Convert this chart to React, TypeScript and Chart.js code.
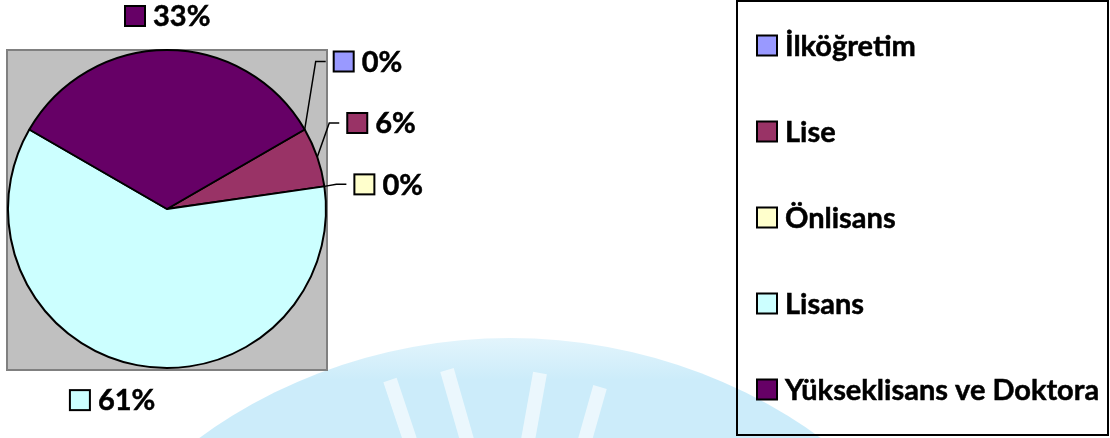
import React, { useEffect, useRef } from "react";
import { Chart, registerables } from "chart.js";

Chart.register(...registerables);

// ---- data ----
const categories = ["İlköğretim", "Lise", "Önlisans", "Lisans", "Yükseklisans ve Doktora"];
const counts = [0, 2, 0, 20, 11];
const sliceColors = ["#9999FF", "#993366", "#FFFFCC", "#CCFFFF", "#660066"];

// ---- layout (positions/styles, not data) ----
const FONT = "bold 29px Lato, 'Open Sans', sans-serif";
// label offset of the leader end (or swatch left) from slice's outer anchor
const labelLayout = [
  { dx: 21, dy: -68, leader: true },
  { dx: 22, dy: -34, leader: true },
  { dx: 22, dy: -2, leader: true },
  { dx: -67, dy: 35, leader: false },
  { dx: -42, dy: -34, leader: false },
];
const legendBox = { left: 737, top: 1, right: 1108, bottom: 435 };
const legendItems = { swatchX: 757, firstY: 45.5, step: 86 };

const labelPlugin = {
  id: "excelDecor",
  beforeDraw(chart: any) {
    const ctx = chart.ctx;
    const meta = chart.getDatasetMeta(0);
    const arc0 = meta.data[0];
    if (!arc0) return;
    const cx = arc0.x, cy = arc0.y, R = arc0.outerRadius;
    ctx.save();
    // faint watermark
    const g = ctx.createLinearGradient(0, 335, 0, 380);
    g.addColorStop(0, "rgb(228,245,252)");
    g.addColorStop(1, "rgb(204,236,250)");
    ctx.fillStyle = g;
    ctx.beginPath();
    ctx.ellipse(510, 800, 500, 462, 0, 0, Math.PI * 2);
    ctx.fill();
    ctx.strokeStyle = "rgba(255,255,255,0.6)";
    ctx.lineWidth = 14;
    ctx.lineCap = "butt";
    const strokes = [
      [390, 380, 410, 440],
      [447, 370, 467, 440],
      [540, 373, 528, 440],
      [600, 387, 585, 440],
    ];
    for (const s of strokes) {
      ctx.beginPath();
      ctx.moveTo(s[0], s[1]);
      ctx.lineTo(s[2], s[3]);
      ctx.stroke();
    }
    // plot area gray background
    ctx.fillStyle = "#C0C0C0";
    ctx.fillRect(cx - R - 1, cy - R, 2 * R + 2, 2 * R + 2);
    ctx.strokeStyle = "#808080";
    ctx.lineWidth = 2;
    ctx.strokeRect(cx - R - 1, cy - R, 2 * R + 2, 2 * R + 2);
    ctx.restore();
  },
  afterDraw(chart: any) {
    const ctx = chart.ctx;
    const meta = chart.getDatasetMeta(0);
    const total = counts.reduce((a, b) => a + b, 0);
    ctx.save();
    ctx.font = FONT;
    ctx.textBaseline = "middle";
    ctx.textAlign = "left";
    const drawSwatch = (x: number, yc: number, color: string) => {
      ctx.fillStyle = color;
      ctx.fillRect(x, yc - 10, 20, 20);
      ctx.strokeStyle = "#000";
      ctx.lineWidth = 2;
      ctx.strokeRect(x, yc - 10, 20, 20);
    };
    const drawText = (t: string, x: number, y: number) => {
      ctx.fillStyle = "#000";
      ctx.fillText(t, x, y);
      ctx.strokeStyle = "#000";
      ctx.lineWidth = 0.5;
      ctx.strokeText(t, x, y);
    };
    meta.data.forEach((arc: any, i: number) => {
      const a = (arc.startAngle + arc.endAngle) / 2;
      const R = arc.outerRadius;
      const ax = arc.x + R * Math.cos(a);
      const ay = arc.y + R * Math.sin(a);
      const lay = labelLayout[i];
      const text = Math.round((counts[i] / total) * 100) + "%";
      let sx: number, sy: number;
      if (lay.leader) {
        const ex = ax + lay.dx, ey = ay + lay.dy;
        ctx.strokeStyle = "#000";
        ctx.lineWidth = 1.5;
        ctx.beginPath();
        ctx.moveTo(ax, ay);
        ctx.lineTo(ex - 10, ey);
        ctx.lineTo(ex, ey);
        ctx.stroke();
        sx = ex + 8;
        sy = ey;
      } else {
        sx = ax + lay.dx;
        sy = ay + lay.dy;
      }
      drawSwatch(sx, sy, sliceColors[i]);
      drawText(text, sx + 28, sy + 1);
    });
    // legend
    ctx.strokeStyle = "#000";
    ctx.lineWidth = 2;
    ctx.strokeRect(legendBox.left, legendBox.top, legendBox.right - legendBox.left, legendBox.bottom - legendBox.top);
    categories.forEach((c, i) => {
      const y = legendItems.firstY + i * legendItems.step;
      drawSwatch(legendItems.swatchX, y, sliceColors[i]);
      drawText(c, legendItems.swatchX + 28, y + 1);
    });
    ctx.restore();
  },
};

export default function App() {
  const ref = useRef<HTMLCanvasElement | null>(null);
  useEffect(() => {
    document.body.style.margin = "0";
    const canvas = ref.current;
    if (!canvas) return;
    const chart = new Chart(canvas, {
      type: "pie",
      data: {
        labels: categories,
        datasets: [
          {
            data: counts,
            backgroundColor: sliceColors,
            borderColor: "#000",
            borderWidth: 2,
          },
        ],
      },
      options: {
        responsive: false,
        animation: false,
        rotation: 60,
        layout: { padding: { left: 7, top: 49, right: 783, bottom: 69 } },
        plugins: {
          legend: { display: false },
          tooltip: { enabled: false },
        },
      },
      plugins: [labelPlugin],
    });
    return () => chart.destroy();
  }, []);
  return (
    <div style={{ width: 1110, height: 438 }}>
      <canvas ref={ref} width={1110} height={438} style={{ display: "block" }} />
    </div>
  );
}
